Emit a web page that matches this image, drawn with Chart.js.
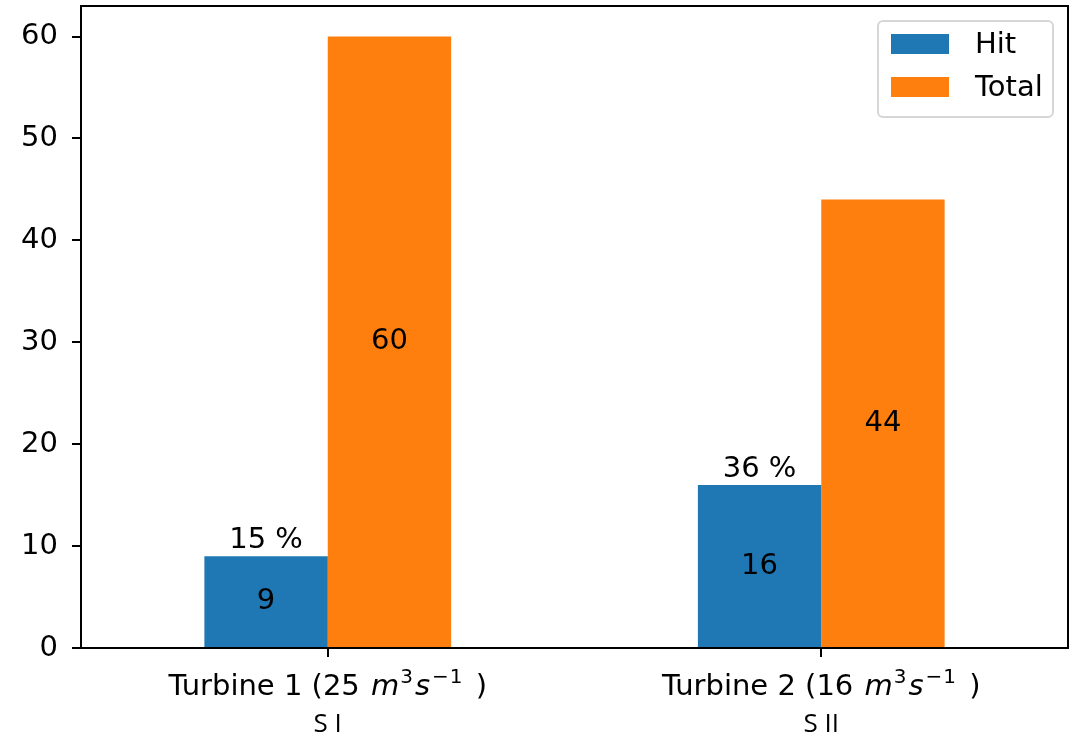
<!DOCTYPE html>
<html>
<head>
<meta charset="utf-8">
<script src="https://cdn.jsdelivr.net/npm/chart.js@4.4.1/dist/chart.umd.min.js"></script>
<style>
  html, body { margin: 0; padding: 0; background: #ffffff; }
  #wrap { width: 1077px; height: 737px; position: relative; }
</style>
</head>
<body>
<div id="wrap"><canvas id="chart" width="1077" height="737"></canvas></div>
<script>
// Turbine passage counts
const turbineNames = ['Turbine 1', 'Turbine 2'];
const flowRates = [25, 16];            // m^3 s^-1
const siteLabels = ['S I', 'S II'];
const hitCounts = [9, 16];
const totalCounts = [60, 44];
const yTickValues = [0, 10, 20, 30, 40, 50, 60];
const yMax = 63;

const FONT = "'DejaVu Sans', sans-serif";
const FS = 29;
const BLUE = '#1f77b4';
const ORANGE = '#ff7f0e';

// two-line tick labels with mathtext-style units
const tickLabelPlugin = {
  id: 'tickLabels',
  afterDraw(chart) {
    const ctx = chart.ctx;
    const xs = chart.scales.x;
    const base = chart.chartArea.bottom;
    ctx.save();
    ctx.fillStyle = '#000';
    ctx.textBaseline = 'alphabetic';
    const sup = `${Math.round(FS * 0.7)}px ${FONT}`;
    turbineNames.forEach((name, i) => {
      const cx = xs.getPixelForValue(i);
      const segs = [
        { t: name + ' (' + flowRates[i] + ' ', f: `${FS}px ${FONT}`, dy: 0, gap: 2 },
        { t: 'm', f: `italic ${FS}px ${FONT}`, dy: 0, gap: 1 },
        { t: '3', f: sup, dy: -12, gap: 2 },
        { t: 's', f: `italic ${FS}px ${FONT}`, dy: 0, gap: 2 },
        { t: '\u2212', f: sup, dy: -12, gap: 1 },
        { t: '1', f: sup, dy: -12, gap: 4 },
        { t: ' )', f: `${FS}px ${FONT}`, dy: 0, gap: 0 }
      ];
      let w = 0;
      segs.forEach(s => { ctx.font = s.f; s.w = ctx.measureText(s.t).width; w += s.w + s.gap; });
      let x = cx - w / 2;
      const y = base + 47;
      ctx.textAlign = 'left';
      segs.forEach(s => { ctx.font = s.f; ctx.fillText(s.t, x, y + s.dy); x += s.w + s.gap; });
      ctx.font = `26px 'Open Sans', sans-serif`;
      ctx.textAlign = 'center';
      ctx.fillText(siteLabels[i], cx, base + 84);
    });
    ctx.restore();
  }
};

// value labels inside bars, percentage above the hit bars
const barLabelPlugin = {
  id: 'barLabels',
  afterDatasetsDraw(chart) {
    const ctx = chart.ctx;
    ctx.save();
    ctx.fillStyle = '#000';
    ctx.font = `${FS}px ${FONT}`;
    ctx.textAlign = 'center';
    chart.data.datasets.forEach((ds, di) => {
      const meta = chart.getDatasetMeta(di);
      meta.data.forEach((bar, i) => {
        const v = ds.data[i];
        ctx.textBaseline = 'middle';
        ctx.fillText(String(v), bar.x, (bar.y + bar.base) / 2);
        if (di === 0) {
          const pct = Math.round(hitCounts[i] / totalCounts[i] * 100);
          ctx.textBaseline = 'alphabetic';
          ctx.fillText(pct + ' %', bar.x, bar.y - 8);
        }
      });
    });
    ctx.restore();
  }
};

// axes frame and inset legend
const framePlugin = {
  id: 'frame',
  afterDraw(chart) {
    const { left, right, top, bottom } = chart.chartArea;
    const ctx = chart.ctx;
    ctx.save();
    ctx.strokeStyle = '#000';
    ctx.lineWidth = 2;
    ctx.strokeRect(left, top, right - left, bottom - top);

    // legend
    const bx = right - 190, by = top + 15, bw = 175, bh = 96;
    ctx.beginPath();
    ctx.roundRect(bx, by, bw, bh, 5);
    ctx.fillStyle = 'rgba(255,255,255,0.8)';
    ctx.fill();
    ctx.strokeStyle = '#d6d6d6';
    ctx.lineWidth = 2;
    ctx.stroke();
    ctx.font = `${FS}px ${FONT}`;
    ctx.textAlign = 'left';
    ctx.textBaseline = 'middle';
    chart.data.datasets.forEach((ds, i) => {
      const cy = by + 23 + i * 43;
      ctx.fillStyle = ds.backgroundColor;
      ctx.fillRect(bx + 13, cy - 10, 58, 20);
      ctx.fillStyle = '#000';
      ctx.fillText(ds.label, bx + 97, cy + 1);
    });
    ctx.restore();
  }
};

new Chart(document.getElementById('chart'), {
  type: 'bar',
  data: {
    labels: turbineNames,
    datasets: [
      { label: 'Hit', data: hitCounts, backgroundColor: BLUE, borderWidth: 0 },
      { label: 'Total', data: totalCounts, backgroundColor: ORANGE, borderWidth: 0 }
    ]
  },
  options: {
    responsive: false,
    animation: false,
    devicePixelRatio: 1,
    layout: { padding: { left: 0, top: 6, right: 9, bottom: 0 } },
    plugins: { legend: { display: false }, tooltip: { enabled: false } },
    datasets: { bar: { categoryPercentage: 0.5, barPercentage: 1.0 } },
    scales: {
      x: {
        type: 'category',
        offset: true,
        grid: { display: true, offset: false, drawOnChartArea: false, drawTicks: true, tickLength: 9, color: '#000', lineWidth: 2 },
        border: { display: true, color: '#000', width: 2 },
        ticks: { display: true, callback: () => '', padding: 0 },
        afterFit(scale) { scale.height = 89; scale.paddingLeft = 0; scale.paddingRight = 0; }
      },
      y: {
        min: 0,
        max: yMax,
        grid: { display: true, drawOnChartArea: false, drawTicks: true, tickLength: 9, color: '#000', lineWidth: 2 },
        border: { display: true, color: '#000', width: 2 },
        ticks: { color: '#000', font: { family: FONT, size: FS }, padding: 14 },
        afterBuildTicks(scale) { scale.ticks = yTickValues.map(v => ({ value: v })); },
        afterFit(scale) { scale.width = 81; scale.paddingTop = 0; scale.paddingBottom = 0; }
      }
    }
  },
  plugins: [tickLabelPlugin, barLabelPlugin, framePlugin]
});
</script>
</body>
</html>
